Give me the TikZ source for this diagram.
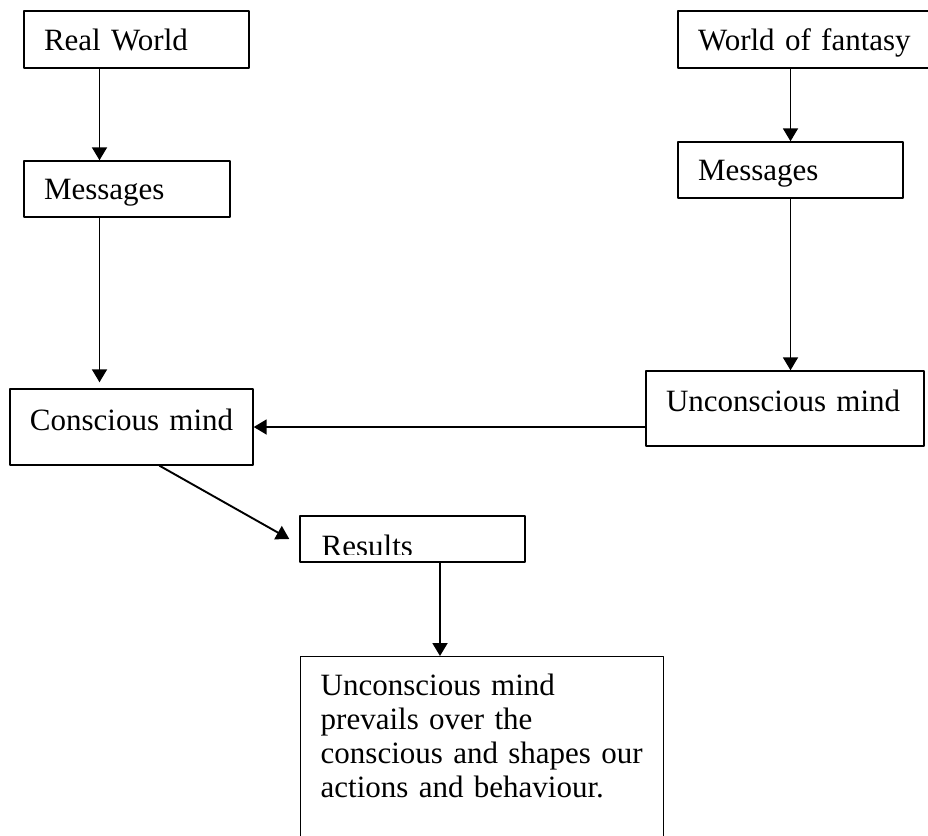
\documentclass[tikz,border=0pt]{standalone}
\usepackage{fontspec}
\setmainfont{Liberation Serif}
\usetikzlibrary{arrows.meta}

\begin{document}
\begin{tikzpicture}[line cap=round,line join=round,>={Triangle[length=6.5pt,width=7.5pt]},x=0.5pt,y=-0.5pt,
  box/.style={draw, line width=0.7pt, rectangle, align=left, inner xsep=10pt,
    text height=10.85pt, text depth=0pt, font=\fontsize{15.5pt}{17pt}\selectfont},
  flow/.style={->, line width=0.95pt}]
\clip (0,0) rectangle (928,836);
% top row
\node[box, text width=92.5pt, minimum height=28.5pt] (real) at (136.5,39.5) {Real World};
\node[box, text width=110pt, minimum height=28.5pt] (fantasy) at (808,39.5) {World of fantasy};
\node[box, text width=83pt, minimum height=28pt] (msgL) at (127,189) {Messages};
\node[box, text width=92.5pt, minimum height=28pt] (msgR) at (790.5,170) {Messages};
% minds
\node[box, text width=101.5pt, minimum height=38pt, text depth=7.75pt] (con) at (131.5,427) {\mbox{Conscious mind}};
\node[box, text width=119pt, minimum height=37.5pt, text depth=7.75pt] (unc) at (785,408.5) {\mbox{Unconscious mind}};
% results, text cut off at the bottom
\node[box, text width=92.5pt, minimum height=23pt] (res) at (412.5,539) {};
\begin{scope}
\clip (res.north west) rectangle ([yshift=4pt]res.south east);
\node[inner sep=0pt, anchor=base west, font=\fontsize{15.5pt}{17pt}\selectfont] (restext) at ([xshift=11pt,yshift=-8.75pt]res.west) {Results};
\end{scope}
\node[box, text width=161.5pt, inner ysep=8.65pt, text depth=80pt, anchor=north west] (final) at (300,656)
  {Unconscious mind\\prevails over the\\conscious and shapes our\\actions and behaviour.};
% connectors
\coordinate (colL) at (99.5,0);
\draw[flow] (real.south -| colL) -- (msgL.north -| colL);
\draw[flow, shorten >=3pt] (msgL.south -| colL) -- (con.north -| colL);
\draw[flow] (fantasy.south -| msgR.north) -- (msgR.north);
\draw[flow] (msgR.south) -- (unc.north -| msgR.south);
\draw[flow] (unc.west |- con.east) -- (con.east);
\draw[flow] ([xshift=14pt]con.south) -- ([xshift=-5pt]res.west);
\draw[flow] ([xshift=13.75pt]res.south) coordinate (resout) -- (resout |- final.north);
\end{tikzpicture}
\end{document}
